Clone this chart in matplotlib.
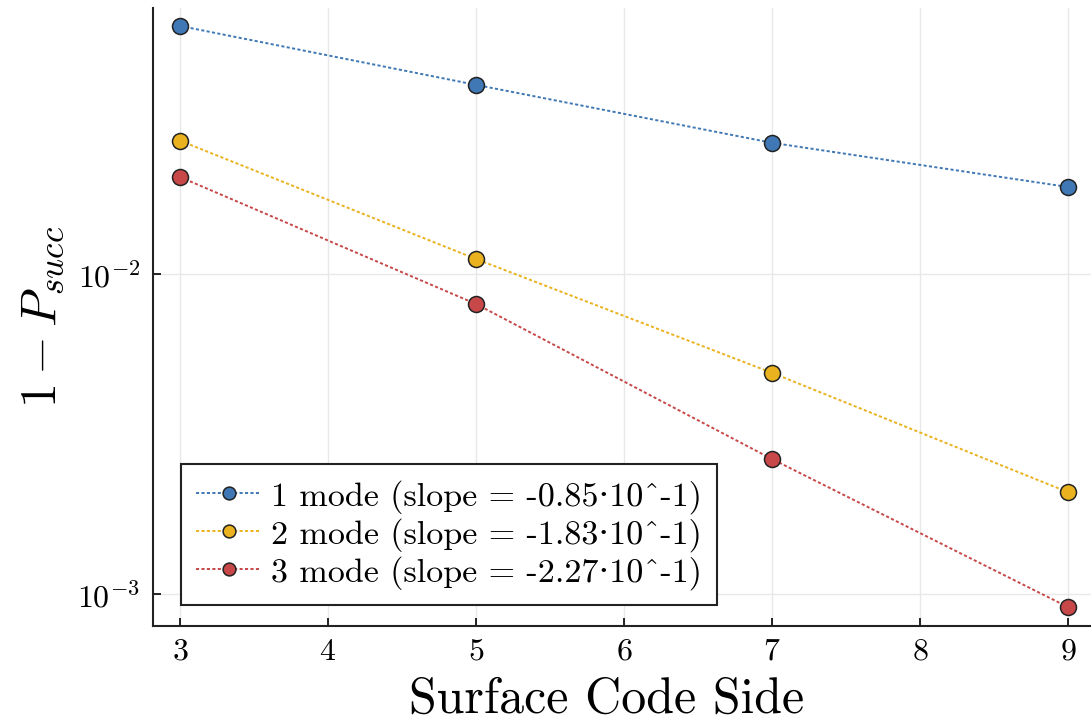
import numpy as np
import matplotlib
matplotlib.use("Agg")
import matplotlib.pyplot as plt

plt.rcParams['font.family'] = ['cmr10', 'DejaVu Serif']
plt.rcParams['mathtext.fontset'] = 'cm'
plt.rcParams['axes.formatter.use_mathtext'] = True

# code distance
side = [3, 5, 7, 9]

# logical error rate per number of modes
err_1mode = [0.0596, 0.0390, 0.0257, 0.0187]
err_2mode = [0.0261, 0.01114, 0.00491, 0.00208]
err_3mode = [0.0201, 0.00806, 0.00264, 0.00091]

labels = ["1 mode (slope = -0.85·10^-1)",
          "2 mode (slope = -1.83·10^-1)",
          "3 mode (slope = -2.27·10^-1)"]
colors = ["#3f78b4", "#eab21e", "#c84849"]

fig = plt.figure(figsize=(10.91, 7.21), dpi=100)
ax = fig.add_axes([0.1402, 0.1318, 0.8598, 0.857])

for ys, lab, c in zip([err_1mode, err_2mode, err_3mode], labels, colors):
    ax.plot(side, ys, linestyle=(0, (1.6, 1.2)), lw=1.4, color=c,
            marker='o', ms=11.5, mfc=c, mec='#222222', mew=1.1, label=lab)

ax.set_yscale('log')
ax.set_xlim(2.818, 9.155)
ax.set_ylim(10**-3.1, 10**-1.169)
ax.set_xticks([3, 4, 5, 6, 7, 8, 9])
ax.set_yticks([1e-3, 1e-2])
ax.yaxis.set_minor_locator(matplotlib.ticker.NullLocator())

ax.grid(True, color='#e8e8e8', lw=1.0)
ax.set_axisbelow(True)
for s in ['top', 'right']:
    ax.spines[s].set_visible(False)
for s in ['left', 'bottom']:
    ax.spines[s].set_linewidth(1.5)
    ax.spines[s].set_color('#222222')
ax.tick_params(direction='in', length=6, width=1.2, labelsize=23, pad=9)

ax.set_xlabel("Surface Code Side", fontsize=36)
ax.xaxis.set_label_coords(0.484, -0.082)
ax.set_ylabel(r"$1 - P_{succ}$", fontsize=36, labelpad=8)

leg = ax.legend(loc='lower left', bbox_to_anchor=(0.166, 0.161),
                bbox_transform=fig.transFigure, borderaxespad=0,
                fontsize=24.5, frameon=True, fancybox=False, framealpha=1,
                handlelength=1.9, handletextpad=0.3, labelspacing=0.12,
                borderpad=0.45, markerscale=0.8)
leg.get_frame().set_edgecolor('#222222')
leg.get_frame().set_linewidth(1.5)

fig.savefig("out.png", dpi=100)
